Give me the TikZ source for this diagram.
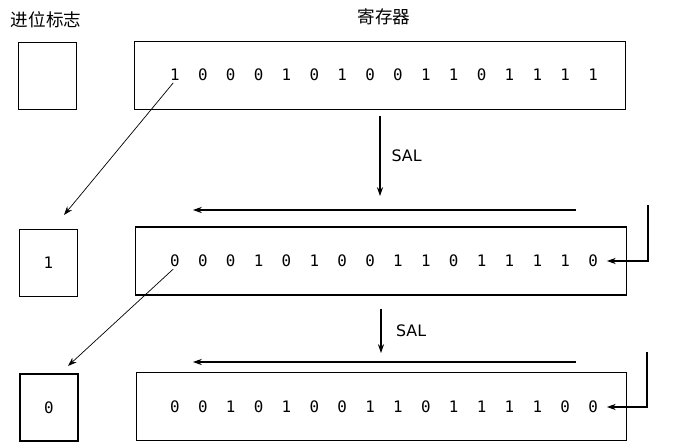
\documentclass[tikz,border=0pt]{standalone}
\usepackage{fontspec}
\setmonofont{DejaVu Sans Mono}
\setsansfont{DejaVu Sans}
\newfontfamily\cjk{Noto Sans CJK SC}
\usetikzlibrary{arrows.meta, positioning, calc}
\tikzset{
  carrybox/.style={draw, semithick, minimum width=1.16cm, minimum height=1.34cm, inner sep=0pt, font=\ttfamily\small},
  regbox/.style={draw, semithick, minimum width=9.82cm, minimum height=1.36cm, inner sep=0pt},
  bitnode/.style={font=\ttfamily\small, inner sep=1pt},
  shiftarr/.style={-{Stealth[length=5pt, width=3.5pt]}, semithick},
}

\begin{document}
\begin{tikzpicture}[x=0.02cm, y=-0.02cm]
  \useasboundingbox (0,0) rectangle (680,448);
  \node[font=\cjk\normalsize] (cftitle) at (46,20) {进位标志};
  \node[font=\cjk\normalsize] (regtitle) at (384,17) {寄存器};
  % ============ row 1 ============
  \node[carrybox] (c1) at (47.5,76) {};
  \node[regbox] (r1) at (380,75.5) {};
  \foreach \b [count=\i] in {1,0,0,0,1,0,1,0,0,1,1,0,1,1,1,1}
    \node[bitnode] (b1-\i) at ({175+(\i-1)*27.87},75) {\b};
  % ============ row 2 ============
  \node[carrybox] (c2) at (48.5,263) {1};
  \node[regbox] (r2) at (381,261) {};
  \foreach \b [count=\i] in {0,0,0,1,0,1,0,0,1,1,0,1,1,1,1,0}
    \node[bitnode] (b2-\i) at ({175+(\i-1)*27.87},261) {\b};
  % ============ row 3 ============
  \node[carrybox] (c3) at (49,407.5) {0};
  \node[regbox] (r3) at (381.5,406.5) {};
  \foreach \b [count=\i] in {0,0,1,0,1,0,0,1,1,0,1,1,1,1,0,0}
    \node[bitnode] (b3-\i) at ({175+(\i-1)*27.87},407) {\b};
  % ============ shifts ============
  \coordinate (sal1a) at (380,116);
  \coordinate (sal1b) at (380,196);
  \draw[shiftarr] (sal1a) -- (sal1b) node[midway, right=3pt, font=\sffamily\small] {SAL};
  \coordinate (sal2a) at (381,309);
  \coordinate (sal2b) at (381,353);
  \draw[shiftarr] (sal2a) -- (sal2b) node[midway, right=5pt, font=\sffamily\small] {SAL};
  \coordinate (mv1a) at (576,210);
  \coordinate (mv1b) at (193,210);
  \draw[shiftarr] (mv1a) -- (mv1b);
  \coordinate (mv2a) at (576,362);
  \coordinate (mv2b) at (193,362);
  \draw[shiftarr] (mv2a) -- (mv2b);
  % ============ carry out ============
  \coordinate (co1) at (64,215);
  \draw[shiftarr, thin] ([xshift=-1pt]b1-1.south) -- (co1);
  \coordinate (co2) at (68,366);
  \draw[shiftarr, thin] ([xshift=-1pt]b2-1.south) -- (co2);
  % ============ zero in ============
  \coordinate (zi1) at (648,205);
  \draw[shiftarr] (zi1) |- ([xshift=4pt]b2-16.east);
  \coordinate (zi2) at (647,352);
  \draw[shiftarr] (zi2) |- ([xshift=4pt]b3-16.east);
\end{tikzpicture}
\end{document}
